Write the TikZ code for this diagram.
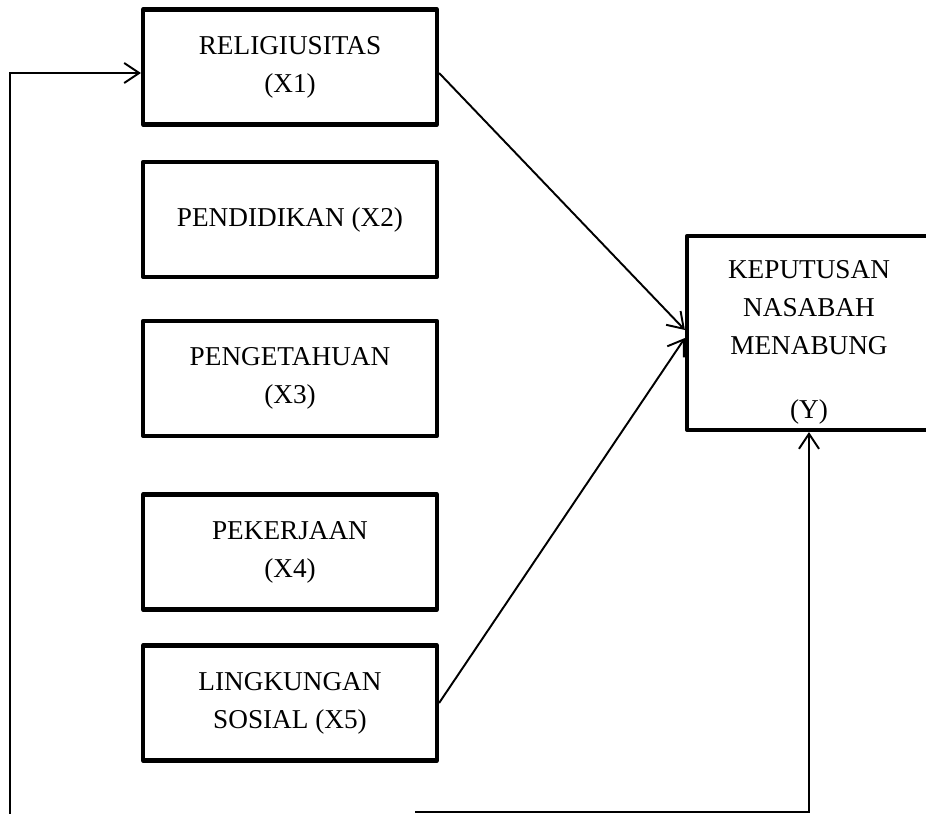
\documentclass[tikz,border=0pt]{standalone}
\usepackage{fontspec}
\setmainfont{Liberation Serif}
\usetikzlibrary{arrows.meta}
\tikzset{>={Straight Barb[length=0.3cm,width=0.4cm]}}
\colorlet{background}{white}
\colorlet{penColor}{black}
\tikzset{varBox/.style={draw=penColor, line width=2.4pt, line join=round, align=center,
		minimum width=5.88cm, minimum height=2.3cm, font=\fontsize{15.5}{21.6}\selectfont}}
\tikzset{link/.style={->, penColor, line width=1.1pt}}

\begin{document}
\begin{tikzpicture}[x=0.02cm,y=-0.02cm]
				\useasboundingbox (0,0) rectangle (926,814);
				\clip (0,0) rectangle (926,814);
				\node[varBox] (x1) at (290,67) {RELIGIUSITAS\\(X1)};
				\node[varBox] (x2) at (290,219.5) {PENDIDIKAN (X2)};
				\node[varBox] (x3) at (290,378.5) {PENGETAHUAN\\(X3)};
				\node[varBox] (x4) at (290,552) {PEKERJAAN\\(X4)};
				\node[varBox] (x5) at (290,703) {LINGKUNGAN\\SOSIAL (X5)};
				\node[varBox, minimum width=4.88cm, minimum height=3.88cm] (y) at (809,333)
					{\rule{0pt}{0.72cm}KEPUTUSAN\\NASABAH\\MENABUNG\\[0.52cm](Y)};
				
				\coordinate (loopL) at (10,830);
				\coordinate (loopR) at (415,812);
				\draw[link] ([yshift=-0.12cm]x1.east) -- ([yshift=0.06cm]y.west);
				\draw[link] (x5.east) -- ([yshift=-0.1cm]y.west);
				\draw[link] (loopL) |- ([yshift=-0.12cm]x1.west);
				\draw[link] (loopR) -| (y.south);
				%\draw[link] (loopL) -- (loopR);
\end{tikzpicture}
\end{document}
